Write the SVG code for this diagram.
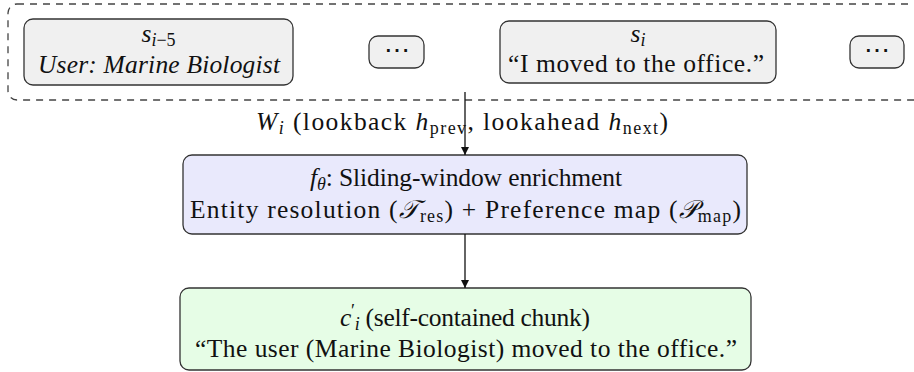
<svg xmlns="http://www.w3.org/2000/svg" width="914" height="372" viewBox="0 0 914 372" font-family="Liberation Serif, Times New Roman, serif">
  <style>
    text { font-family: 'Liberation Serif', 'Times New Roman', serif; }
    .t { font-size: 25.5px; fill: #111; text-anchor: middle; }
    .it { font-style: italic; }
    .sub { font-size: 18px; }
    .sent { fill: #f0f0f0; stroke: #333; stroke-width: 1.3; }
    .proc { fill: #e9e9fc; stroke: #333; stroke-width: 1.3; }
    .out { fill: #e6fde6; stroke: #333; stroke-width: 1.3; }
    .wire { stroke: #111; stroke-width: 1.3; fill: none; }
  </style>
  <defs>
    <marker id="tip" viewBox="0 0 10 10" refX="10" refY="5" markerWidth="8" markerHeight="8" markerUnits="userSpaceOnUse" orient="auto">
      <path d="M0,0 L10,5 L0,10 z" fill="#111"/>
    </marker>
  </defs>

  <!-- sliding window of sentences (right side runs past the page edge) -->
  <g id="window">
    <rect x="8" y="4" width="940" height="96" rx="9" fill="none" stroke="#444" stroke-width="1.3" stroke-dasharray="7 6"/>
  </g>

  <g id="s-i-5">
    <rect class="sent" x="24" y="19" width="269" height="66" rx="9"/>
    <text class="t" x="158.5" y="42"><tspan class="it">s</tspan><tspan class="sub it" dy="4">i</tspan><tspan class="sub">−5</tspan></text>
    <text class="t it" x="159" y="73" textLength="242">User: Marine Biologist</text>
  </g>

  <g id="dots-left">
    <rect class="sent" x="369" y="36" width="55" height="32" rx="9"/>
    <text class="t" x="396.5" y="59">⋯</text>
  </g>

  <g id="s-i">
    <rect class="sent" x="500" y="21" width="276" height="62" rx="9"/>
    <text class="t" x="638" y="42"><tspan class="it">s</tspan><tspan class="sub it" dy="4">i</tspan></text>
    <text class="t" x="636" y="72" textLength="256">“I moved to the office.”</text>
  </g>

  <g id="dots-right">
    <rect class="sent" x="850" y="36" width="54" height="32" rx="9"/>
    <text class="t" x="877" y="59">⋯</text>
  </g>

  <g id="enrich">
    <rect class="proc" x="183" y="155" width="564" height="79" rx="9"/>
    <text class="t" x="466" y="186" textLength="312"><tspan class="it">f</tspan><tspan class="sub it" dy="4">θ</tspan><tspan dy="-4">: Sliding-window enrichment</tspan></text>
    <text class="t" x="465.5" y="218" textLength="551">Entity resolution (<tspan class="it">𝒯</tspan><tspan class="sub" dy="4">res</tspan><tspan dy="-4">) + Preference map (</tspan><tspan class="it">𝒫</tspan><tspan class="sub" dy="4">map</tspan><tspan dy="-4">)</tspan></text>
  </g>

  <g id="chunk">
    <rect class="out" x="180" y="288" width="571" height="82" rx="9"/>
    <text class="t" x="465" y="326" textLength="250"><tspan class="it">c</tspan><tspan class="sub" dy="-9">′</tspan><tspan class="sub it" dy="13">i</tspan><tspan dy="-4"> (self-contained chunk)</tspan></text>
    <text class="t" x="466" y="357" textLength="542">“The user (Marine Biologist) moved to the office.”</text>
  </g>

  <g id="connectors">
    <line class="wire" x1="465" y1="92" x2="465" y2="155" marker-end="url(#tip)"/>
    <line class="wire" x1="465" y1="234" x2="465" y2="288" marker-end="url(#tip)"/>
    <text class="t" x="462" y="130" textLength="412"><tspan class="it">W</tspan><tspan class="sub it" dy="4">i</tspan><tspan dy="-4"> (lookback </tspan><tspan class="it">h</tspan><tspan class="sub" dy="4">prev</tspan><tspan dy="-4">, lookahead </tspan><tspan class="it">h</tspan><tspan class="sub" dy="4">next</tspan><tspan dy="-4">)</tspan></text>
  </g>
</svg>
